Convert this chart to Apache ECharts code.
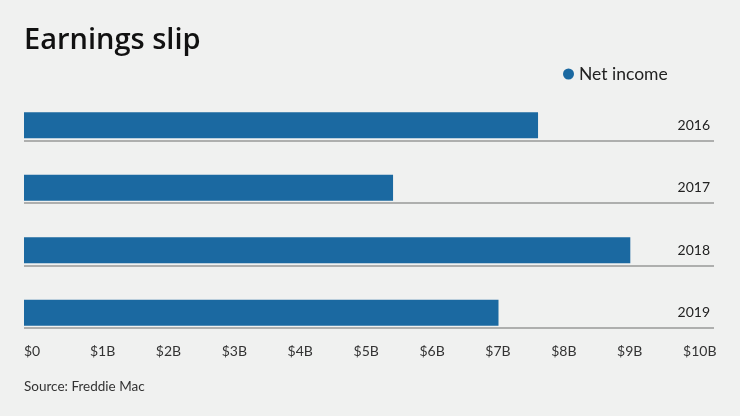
<!DOCTYPE html>
<html><head><meta charset="utf-8">
<script src="https://cdn.jsdelivr.net/npm/echarts@6/dist/echarts.min.js"></script>
<style>html,body{margin:0;padding:0;background:#f0f1f0;}#c{width:740px;height:416px;}</style>
</head><body><div id="c"></div>
<script>
const years = ['2016', '2017', '2018', '2019'];
const netIncome = [7.8, 5.6, 9.2, 7.2];
const tickValues = [0,1,2,3,4,5,6,7,8,9,10];
const FONT = 'Lato';
const chart = echarts.init(document.getElementById('c'));
chart.setOption({
  backgroundColor: '#f0f1f0',
  animation: false,
  title: {text: 'Earnings slip', left: 19, top: 21, textStyle: {fontFamily: 'Open Sans', fontSize: 29, fontWeight: 600, color: '#111'}},
  graphic: [{type: 'text', left: 24, top: 380, style: {text: 'Source: Freddie Mac', font: '13.5px Lato', fill: '#333'}}],
  legend: {data: ['Net income'], left: 558, top: 60, icon: 'circle', itemWidth: 11, itemHeight: 11, itemGap: 11,
    textStyle: {fontFamily: FONT, fontSize: 17.5, color: '#222'}},
  grid: {left: 24, right: 26, top: 77.8, height: 250},
  xAxis: {type: 'value', min: 0, max: 10.47, interval: 1,
    axisLine: {show: false}, axisTick: {show: false}, splitLine: {show: false},
    axisLabel: {align: 'left', margin: 17, fontFamily: FONT, fontSize: 14, color: '#333',
      formatter: v => tickValues.includes(v) ? (v === 0 ? '$0' : '$' + v + 'B') : ''}},
  yAxis: {type: 'category', data: years, inverse: true, position: 'right',
    axisLine: {show: false}, axisTick: {show: false},
    splitLine: {show: true, lineStyle: {color: ['rgba(0,0,0,0)', '#999', '#999', '#999', '#999'], width: 1.5}},
    axisLabel: {inside: true, margin: 4, interval: 0, showMinLabel: true, showMaxLabel: true, hideOverlap: false,
      fontFamily: FONT, fontSize: 14, color: '#222', lineHeight: 32,
      formatter: v => '\n' + v}},
  series: [
    {name: 'pad', type: 'bar', data: netIncome, barWidth: 26, barGap: '25%', itemStyle: {color: 'rgba(0,0,0,0)'}, silent: true},
    {name: 'Net income', type: 'bar', data: netIncome, barWidth: 26, itemStyle: {color: '#1b69a1'}}
  ]
});
</script></body></html>
